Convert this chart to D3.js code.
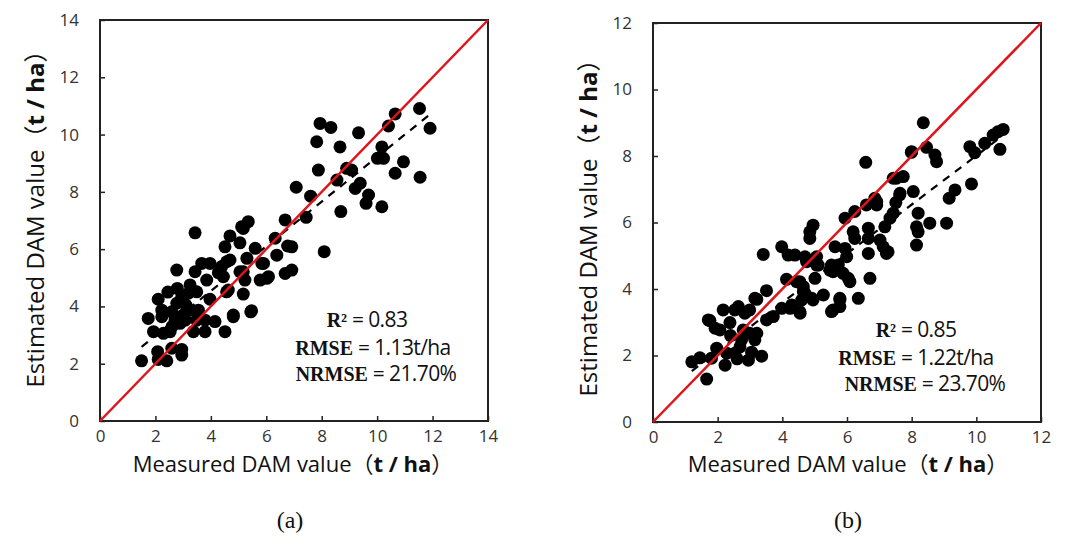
<!DOCTYPE html>
<html>
<head>
<meta charset="utf-8">
<script src="https://cdn.jsdelivr.net/npm/d3@7"></script>
<style>
  body { margin: 0; background: #fff; }
</style>
</head>
<body>
<svg id="chart" width="1065" height="545"></svg>
<script>
// measured vs estimated DAM (t/ha), panel (a)
const pointsA = [
  [1.5,2.1],[2.08,2.42],[2.41,2.1],[2.1,2.15],[2.59,2.54],[2.95,2.5],[2.95,2.3],[1.74,3.58],
  [1.93,3.12],[2.29,3.06],[2.53,3.12],[2.1,4.25],[2.23,3.87],[2.23,3.64],[2.59,3.81],[2.77,4.11],
  [2.71,3.52],[2.89,3.41],[3.07,3.52],[3.25,3.87],[2.95,4.34],[2.79,4.63],[3.25,4.75],[3.19,4.46],
  [3.49,4.51],[3.55,3.87],[3.49,3.52],[3.79,3.52],[3.37,3.12],[3.79,3.12],[2.77,5.27],[3.43,5.21],
  [3.67,5.5],[3.97,5.5],[3.85,4.92],[3.97,4.25],[3.43,6.57],[4.15,3.47],[4.51,3.12],[4.81,3.64],
  [5.47,3.85],[4.27,5.18],[4.57,5.56],[4.51,6.08],[4.69,6.46],[5.11,6.78],[5.35,6.96],[5.05,6.22],
  [5.6,6.03],[5.17,5.21],[5.17,4.43],[4.63,4.57],[5.9,5.5],[6.02,4.98],[6.32,6.38],[6.38,5.79],
  [6.68,7.02],[6.77,6.11],[6.68,5.15],[6.92,5.27],[7.08,8.16],[5.17,6.72],[4.69,5.62],[5.3,5.68],
  [5.84,5.5],[4.39,5.39],[5.05,5.21],[6.08,5.04],[5.78,4.92],[4.45,5.04],[5.23,4.92],[4.57,4.51],
  [4.81,3.7],[5.44,3.81],[7.44,7.11],[7.6,7.85],[8.69,7.31],[8.09,5.91],[6.92,6.08],
  [11.53,10.91],[10.65,10.72],[10.41,10.3],[11.91,10.22],[7.94,10.39],[8.33,10.25],[9.33,10.06],
  [7.82,9.75],[8.66,9.57],[10.17,9.57],[10.01,9.17],[10.23,9.17],[10.95,9.05],[10.65,8.65],
  [11.55,8.51],[7.88,8.76],[8.9,8.82],[9.08,8.76],[8.55,8.41],[9.39,8.3],[9.21,8.12],[9.69,7.89],
  [9.6,7.6],[10.17,7.48],[2.6,3.3],[3.0,3.7],[2.45,4.5],[3.1,4.05]
];

// panel (b)
const pointsB = [
  [1.2,1.81],[1.45,1.93],[1.66,1.29],[1.76,3.05],[1.81,1.92],[1.97,2.22],[2.07,2.77],[2.17,3.37],
  [2.23,1.71],[2.28,2.07],[2.53,3.37],[2.38,2.99],[2.53,2.07],[2.74,2.47],[2.69,2.26],[2.95,1.86],
  [2.79,2.77],[2.99,2.67],[3.15,2.47],[3.21,2.67],[3.36,1.98],[2.99,3.37],[3.21,3.69],[3.51,3.95],
  [3.41,5.04],[3.51,3.07],[3.72,3.17],[3.98,3.42],[4.24,3.42],[4.55,3.27],[4.13,4.29],[3.98,5.27],
  [4.18,5.02],[4.39,5.02],[4.44,4.22],[4.65,3.92],[4.7,4.97],[4.75,4.82],[4.6,3.67],[4.95,3.67],
  [4.85,5.72],[4.95,5.92],[5.01,4.32],[5.06,4.72],[5.27,3.82],[5.52,3.32],[5.78,3.67],[5.63,5.27],
  [5.47,4.57],[5.88,4.47],[5.94,6.13],[5.99,4.97],[6.58,7.81],[7.53,7.33],[7.74,7.38],[8.0,8.13],
  [7.64,6.88],[8.05,6.93],[6.86,6.73],[6.92,6.53],[6.6,6.53],[6.24,6.33],[7.51,6.6],[7.33,6.13],
  [7.43,6.28],[7.17,5.87],[6.66,5.83],[6.66,5.52],[6.19,5.72],[6.24,5.52],[4.85,5.52],[7.02,5.47],
  [7.12,5.27],[7.27,5.12],[8.15,5.87],[8.15,5.32],[5.94,5.22],[6.66,5.07],[5.06,4.97],[5.11,4.72],
  [5.52,4.72],[5.73,4.72],[5.57,4.52],[6.04,4.32],[6.09,4.22],[6.71,4.32],[4.54,4.22],[4.65,4.07],
  [4.7,3.87],[4.91,3.72],[5.78,3.72],[6.35,3.72],[5.57,3.37],[5.78,3.47],[4.54,3.32],[4.29,3.52],
  [8.36,9.0],[7.99,8.11],[8.46,8.26],[8.72,8.03],[8.77,7.83],[9.8,8.28],[9.95,8.1],[10.26,8.38],
  [10.52,8.63],[10.67,8.73],[10.83,8.8],[10.73,8.2],[7.43,7.33],[9.85,7.16],[9.34,6.98],[9.16,6.73],
  [7.63,6.83],[6.92,6.63],[8.2,6.28],[8.2,5.72],[8.56,5.98],[9.08,5.98],[7.22,5.07],
  [3.15,3.72],[2.64,3.47],[1.71,3.07],[1.92,2.82],[2.84,3.27],[2.4,2.6],[3.05,2.1],[2.6,1.9]
];

const ticksA = [0, 2, 4, 6, 8, 10, 12, 14];
const ticksB = [0, 2, 4, 6, 8, 10, 12];

// fitted lines: slope, intercept, x range
const fitA = [0.78, 1.42, 1.5, 12];
const fitB = [0.736, 0.65, 1.2, 10.8];

const statsA = ["0.83", "1.13t/ha", "21.70%"];
const statsB = ["0.85", "1.22t/ha", "23.70%"];

const svg = d3.select("#chart");
const sansFont = "'Open Sans', 'Noto Sans', sans-serif";
const serifFont = "'Liberation Serif', 'DejaVu Serif', serif";

function drawPanel(cfg) {
  const g = svg.append("g");
  const x = d3.scaleLinear().domain([0, cfg.max]).range([cfg.left, cfg.right]);
  const y = d3.scaleLinear().domain([0, cfg.max]).range([cfg.bottom, cfg.top]);

  // x axis, ticks pointing inward
  const xa = g.append("g")
    .attr("transform", `translate(0,${cfg.bottom})`)
    .call(d3.axisBottom(x).tickValues(cfg.ticks).tickSize(-5).tickPadding(9).tickFormat(d3.format("d")));
  const ya = g.append("g")
    .attr("transform", `translate(${cfg.left},0)`)
    .call(d3.axisLeft(y).tickValues(cfg.ticks).tickSize(-5).tickPadding(21).tickFormat(d3.format("d")));
  [xa, ya].forEach(a => {
    a.select(".domain").remove();
    a.selectAll(".tick line").attr("stroke", "#222").attr("stroke-width", 1.5);
    a.selectAll(".tick text").attr("fill", "#333").style("font-family", sansFont).style("font-size", "17px");
  });

  // frame
  g.append("rect")
    .attr("x", cfg.left).attr("y", cfg.top)
    .attr("width", cfg.right - cfg.left).attr("height", cfg.bottom - cfg.top)
    .attr("fill", "none").attr("stroke", "#222").attr("stroke-width", 2);

  // points
  g.selectAll("circle.pt")
    .data(cfg.points)
    .enter()
    .append("circle")
    .attr("class", "pt")
    .attr("cx", d => x(d[0]))
    .attr("cy", d => y(d[1]))
    .attr("r", 6.5)
    .attr("fill", "#000");

  // regression line (dashed)
  const [k, b, x0, x1] = cfg.fit;
  g.append("line")
    .attr("x1", x(x0)).attr("y1", y(k * x0 + b))
    .attr("x2", x(x1)).attr("y2", y(k * x1 + b))
    .attr("stroke", "#000").attr("stroke-width", 2.2)
    .attr("stroke-dasharray", "8,7");

  // 1:1 line
  g.append("line")
    .attr("x1", x(0)).attr("y1", y(0))
    .attr("x2", x(cfg.max)).attr("y2", y(cfg.max))
    .attr("stroke", "#e0141b").attr("stroke-width", 2.5);

  // stats text
  const rows = [["R²", cfg.stats[0]], ["RMSE", cfg.stats[1]], ["NRMSE", cfg.stats[2]]];
  rows.forEach((r, i) => {
    const t = g.append("text")
      .attr("x", cfg.statX[i]).attr("y", cfg.statY[i])
      .attr("text-anchor", "middle")
      .attr("fill", "#111");
    t.append("tspan").text(r[0])
      .style("font-family", serifFont).style("font-weight", "bold").style("font-size", "20px");
    t.append("tspan").text(" = " + r[1])
      .style("font-family", sansFont).style("font-size", "21px").attr("letter-spacing", "-0.6");
  });

  // axis titles
  const xt = g.append("text")
    .attr("x", cfg.xTitle[0]).attr("y", cfg.xTitle[1])
    .attr("text-anchor", "middle").attr("fill", "#111")
    .style("font-family", sansFont).style("font-size", "22px");
  addTitle(xt, "Measured DAM value");

  const yt = g.append("text")
    .attr("transform", `translate(${cfg.yTitle[0]},${cfg.yTitle[1]}) rotate(-90)`)
    .attr("text-anchor", "middle").attr("fill", "#111")
    .style("font-family", sansFont).style("font-size", "24px");
  addTitle(yt, "Estimated DAM value");

  // caption
  g.append("text")
    .attr("x", cfg.caption[0]).attr("y", cfg.caption[1])
    .attr("text-anchor", "middle").attr("fill", "#111")
    .style("font-family", serifFont).style("font-size", "24px")
    .text(cfg.label);
}

function addTitle(t, main) {
  t.append("tspan").text(main);
  t.append("tspan").text("（").style("font-family", "'Noto Sans CJK SC', sans-serif");
  t.append("tspan").text("t / ha").style("font-weight", "bold");
  t.append("tspan").text("）").style("font-family", "'Noto Sans CJK SC', sans-serif");
}

drawPanel({
  points: pointsA, ticks: ticksA, fit: fitA, stats: statsA, max: 14,
  left: 100, right: 488, top: 20, bottom: 421,
  statX: [367, 373, 376], statY: [327, 355, 381],
  xTitle: [293, 472], yTitle: [44, 213], caption: [290, 528], label: "(a)"
});

drawPanel({
  points: pointsB, ticks: ticksB, fit: fitB, stats: statsB, max: 12,
  left: 653, right: 1041, top: 23, bottom: 422,
  statX: [916, 916, 925], statY: [337, 365, 391],
  xTitle: [848, 472], yTitle: [597, 222], caption: [848, 528], label: "(b)"
});
</script>
</body>
</html>
